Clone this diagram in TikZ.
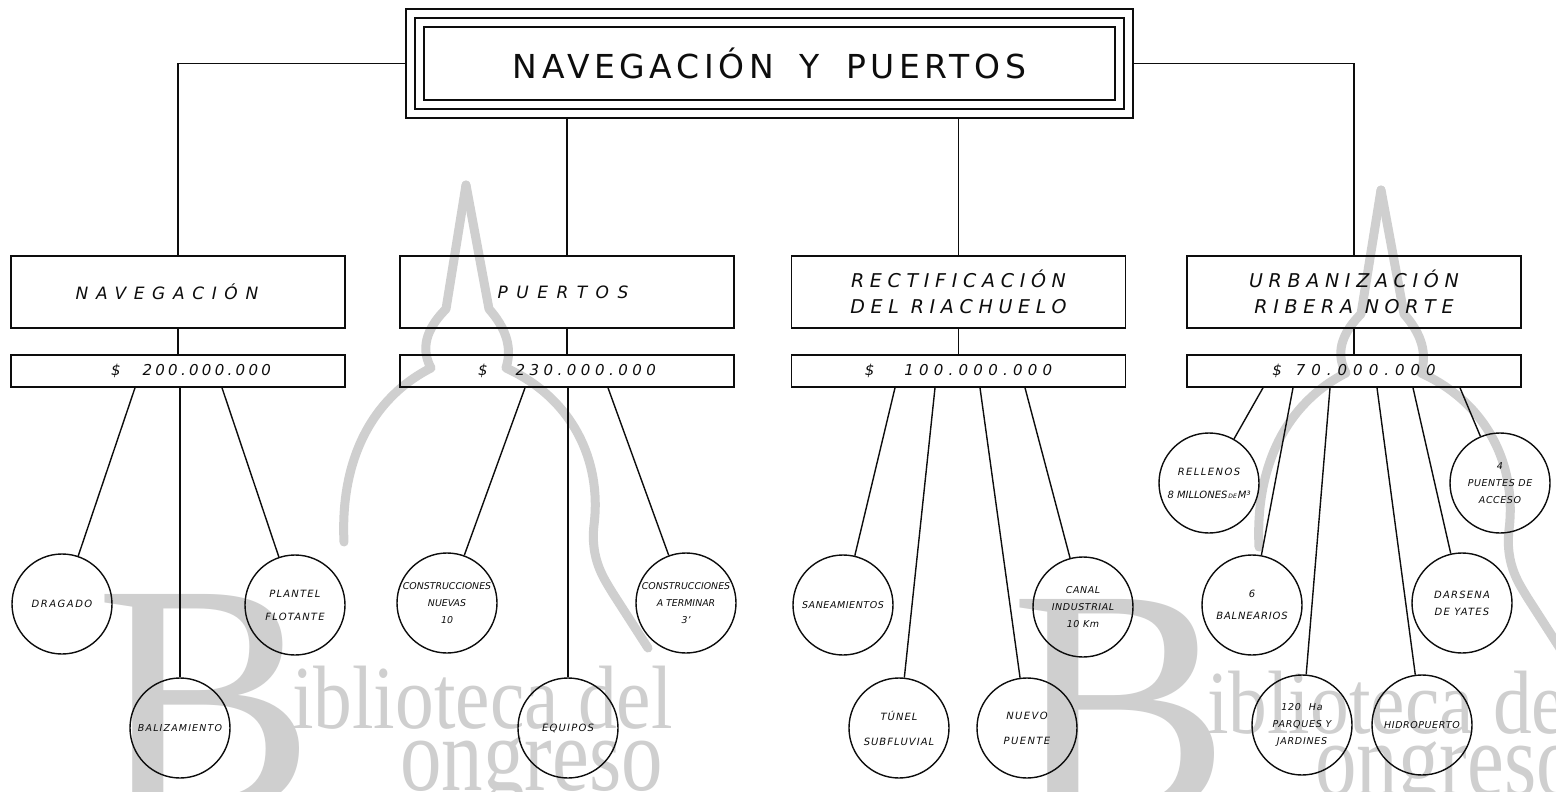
\documentclass[tikz,border=0pt]{standalone}
\usepackage{graphicx}
\usepackage{fontspec}
\setmainfont{DejaVu Sans}
\newfontfamily\wmserif{Liberation Serif}
\definecolor{wmc}{gray}{0.81}
\definecolor{ink}{gray}{0.05}
\newcommand\titlelab{\fontsize{33}{40}\selectfont\addfontfeature{LetterSpace=14}}
\newcommand\sublab[2]{\fontsize{#1}{26}\selectfont\itshape\addfontfeature{LetterSpace=#2}}
\newcommand\leaflab[2]{\fontsize{#1}{17}\selectfont\itshape\addfontfeature{LetterSpace=#2}}
\newcommand\moneylab[1]{\fontsize{15}{18}\selectfont\itshape\addfontfeature{LetterSpace=#1}}
\tikzset{
  ln/.style={draw=ink, line width=1.4pt},
  frame/.style={draw=ink, line width=1.6pt, inner sep=0pt},
  subbox/.style={draw=ink, line width=1.6pt, minimum width=334pt, minimum height=72pt, inner sep=0pt, align=center, text=ink},
  moneybox/.style={draw=ink, line width=1.6pt, minimum width=334pt, minimum height=32pt, inner sep=0pt, text=ink},
  leaf/.style={circle, draw=ink, line width=1.4pt, minimum size=100pt, inner sep=0pt, align=center, text=ink, font=\leaflab{10}{8}},
  wm/.style={text=wmc, inner sep=0pt, anchor=base west},
  wmline/.style={draw=wmc, line width=9pt, line cap=round, line join=round},
}
\newcommand\wmlogo[1]{%
  \draw[wmline] (466,185) -- (446,309) .. controls (420,335) and (424,355) .. (431,368)
      .. controls (372,398) and (340,460) .. (344,542);
  \draw[wmline] (466,185) -- (489,309) .. controls (512,335) and (510,355) .. (506,368)
      .. controls (572,398) and (602,460) .. (594,525) .. controls (590,560) and (605,580) .. (612,592) -- (648,648);
  \node[wm, font=\wmserif\fontsize{330}{330}\selectfont] (wb#1) at (95,810) {B};
  \node[wm] (wt#1) at (292,728) {\scalebox{0.86}[1]{\wmserif\fontsize{90}{90}\selectfont iblioteca del}};
  \node[wm] (wo#1) at (400,790) {\scalebox{0.79}[1]{\wmserif\fontsize{105}{105}\selectfont ongreso}};
}
\begin{document}
\begin{tikzpicture}[x=1pt,y=-1pt]
\useasboundingbox (0,0) rectangle (1556,792);
\fill[white] (0,0) rectangle (1556,792);
% watermark (library stamp)
\begin{scope}
\clip (0,0) rectangle (1556,792);
\wmlogo{1}
\begin{scope}[shift={(915,5)}]
\wmlogo{2}
\end{scope}
\end{scope}
% top frame
\node[frame, minimum width=727pt, minimum height=109pt] (topo) at (769.5,63.5) {};
\node[frame, line width=1.8pt, minimum width=709pt, minimum height=91pt] (topm) at (769.5,63.5) {};
\node[frame, minimum width=691pt, minimum height=73pt, font=\titlelab, text=ink] (topi) at (769.5,63.5) {NAVEGACIÓN\hspace{26pt}Y\hspace{26pt}PUERTOS};
% second level
\node[subbox, font=\sublab{17}{45}] (nav) at (178,292) {NAVEGACIÓN\hspace{22pt}};
\node[subbox, font=\sublab{17}{50}] (pue) at (567,292) {PUERTOS\hspace{8pt}};
\node[subbox, font=\sublab{19}{30}] (rec) at (958.5,292) {RECTIFICACIÓN\\DEL RIACHUELO};
\node[subbox, font=\sublab{19}{30}] (urb) at (1354,292) {URBANIZACIÓN\\RIBERA NORTE};
\draw[ln] (topo.west) -| (nav.north);
\draw[ln] (topo.east) -| (urb.north);
\draw[ln] (topo.south -| pue.north) -- (pue.north);
\draw[ln] (topo.south -| rec.north) -- (rec.north);
% money
\node[moneybox, font=\moneylab{22}] (navm) at (178,371) {\hspace{26pt}\$\hspace{22pt}200.000.000};
\node[moneybox, font=\moneylab{30}] (puem) at (567,371) {\$\hspace{28pt}230.000.000};
\node[moneybox, font=\moneylab{35}] (recm) at (958.5,371) {\$\hspace{30pt}100.000.000\hspace{30pt}};
\node[moneybox, font=\moneylab{40}] (urbm) at (1354,371) {\$\hspace{14pt}70.000.000\hspace{30pt}};
\draw[ln] (nav.south) -- (navm.north);
\draw[ln] (pue.south) -- (puem.north);
\draw[ln] (rec.south) -- (recm.north);
\draw[ln] (urb.south) -- (urbm.north);
% leaves
\node[leaf, font=\leaflab{10}{15}] (c11) at (62,604) {DRAGADO};
\node[leaf, font=\leaflab{9.5}{12}] (c12) at (180,728) {BALIZAMIENTO};
\node[leaf, font=\leaflab{10}{12}] (c13) at (295,605) {PLANTEL\\[6pt]FLOTANTE};
\node[leaf, font=\leaflab{9.4}{0}] (c21) at (447,603) {CONSTRUCCIONES\\NUEVAS\\10};
\node[leaf, font=\leaflab{10}{12}] (c22) at (568,728) {EQUIPOS};
\node[leaf, font=\leaflab{9.4}{0}] (c23) at (686,603) {CONSTRUCCIONES\\A TERMINAR\\3’};
\node[leaf, font=\leaflab{9.5}{6}] (c31) at (843,605) {SANEAMIENTOS};
\node[leaf, font=\leaflab{10}{10}] (c32) at (899,728) {TÚNEL\\[8pt]SUBFLUVIAL};
\node[leaf, font=\leaflab{10}{14}] (c33) at (1027,728) {NUEVO\\[8pt]PUENTE};
\node[leaf, font=\leaflab{9.5}{6}] (c34) at (1083,607) {CANAL\\INDUSTRIAL\\10 Km};
\node[leaf, font=\leaflab{10}{14}] (c41) at (1209,483) {RELLENOS\\[6pt]{\addfontfeature{LetterSpace=0}8 MILLONES{\fontsize{6}{6}\selectfont\,DE\,}M³}};
\node[leaf, font=\leaflab{10}{8}] (c42) at (1252,605) {6\\[5pt]BALNEARIOS};
\node[leaf, font=\leaflab{9.5}{8}] (c43) at (1302,725) {120\hspace{8pt}Ha\\PARQUES Y\\JARDINES};
\node[leaf, font=\leaflab{9.5}{6}] (c44) at (1422,725) {HIDROPUERTO};
\node[leaf, font=\leaflab{10}{12}] (c45) at (1462,603) {DARSENA\\DE YATES};
\node[leaf, font=\leaflab{9.5}{6}] (c46) at (1500,483) {4\\PUENTES DE\\ACCESO};
% connectors to leaves
\draw[ln] ([xshift=-43pt]navm.south) -- (c11);
\draw[ln] ([xshift=2pt]navm.south) -- (c12);
\draw[ln] ([xshift=44pt]navm.south) -- (c13);
\draw[ln] ([xshift=-42pt]puem.south) -- (c21);
\draw[ln] ([xshift=1pt]puem.south) -- (c22);
\draw[ln] ([xshift=41pt]puem.south) -- (c23);
\draw[ln] ([xshift=-63.5pt]recm.south) -- (c31);
\draw[ln] ([xshift=-23.5pt]recm.south) -- (c32);
\draw[ln] ([xshift=21.5pt]recm.south) -- (c33);
\draw[ln] ([xshift=66.5pt]recm.south) -- (c34);
\draw[ln] ([xshift=-91pt]urbm.south) -- (c41);
\draw[ln] ([xshift=-61pt]urbm.south) -- (c42);
\draw[ln] ([xshift=-24pt]urbm.south) -- (c43);
\draw[ln] ([xshift=23pt]urbm.south) -- (c44);
\draw[ln] ([xshift=59pt]urbm.south) -- (c45);
\draw[ln] ([xshift=106pt]urbm.south) -- (c46);
\end{tikzpicture}
\end{document}
